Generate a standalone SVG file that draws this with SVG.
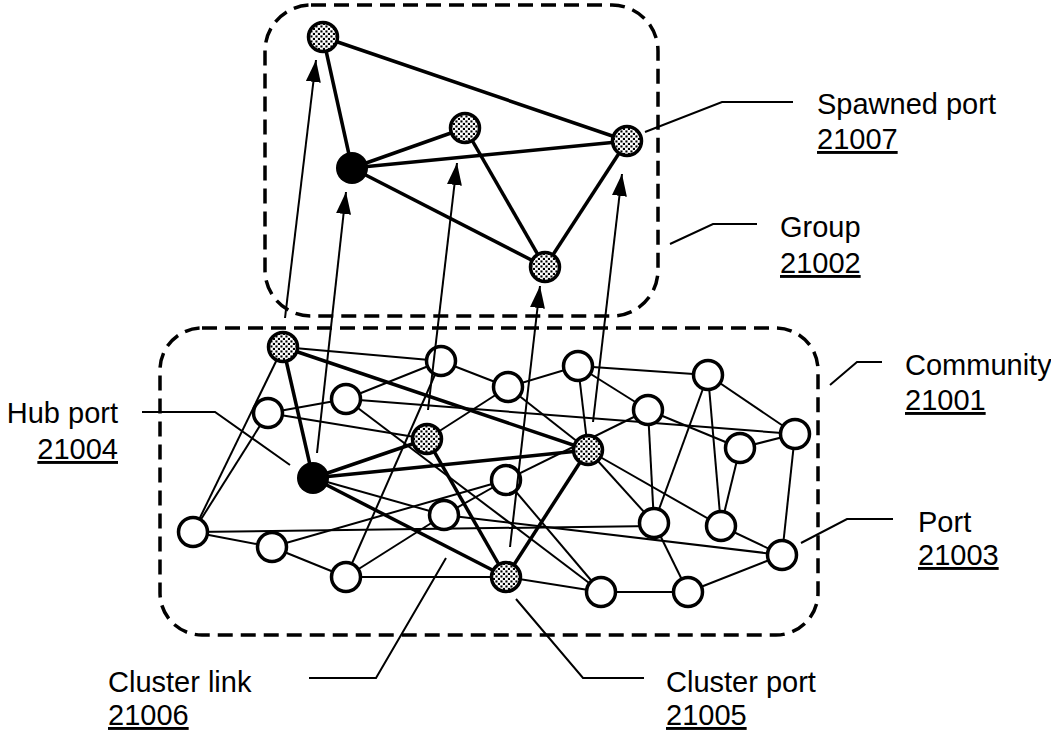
<svg xmlns="http://www.w3.org/2000/svg" width="1051" height="736" viewBox="0 0 1051 736">
  <defs>
    <style>
      .edge{stroke:#000;stroke-width:2;fill:none}
      .thick{stroke-width:3.5}
      .arrow{stroke:#000;stroke-width:2;fill:none;marker-end:url(#ah)}
      .port{fill:#fff;stroke:#000;stroke-width:3.5}
      .spawn{fill:url(#dots);stroke:#000;stroke-width:3.5}
      .hub{fill:#000}
      .frame{fill:none;stroke:#000;stroke-width:3.5;stroke-dasharray:15 8}
      .leader{stroke:#000;stroke-width:2;fill:none}
      .label{font-family:"Liberation Sans",Arial,sans-serif;font-size:29px;fill:#000}
      .num{text-decoration:underline}
    </style>
    <!-- speckled fill for spawned / cluster ports -->
    <pattern id="dots" width="5" height="5" patternUnits="userSpaceOnUse">
      <rect width="5" height="5" fill="#fff"/>
      <rect x="0.4" y="0.4" width="2.1" height="2.1" fill="#000"/>
      <rect x="2.9" y="2.9" width="2.1" height="2.1" fill="#000"/>
    </pattern>
    <marker id="ah" markerUnits="userSpaceOnUse" markerWidth="23" markerHeight="15" refX="22" refY="7.5" orient="auto">
      <path d="M0,0 L22,7.5 L0,15 Z" fill="#000"/>
    </marker>
  </defs>

  <rect width="1051" height="736" fill="#fff"/>

  <!-- dashed boundaries -->
  <g id="frames">
    <rect id="group-21002" class="frame" x="265" y="5" width="393" height="311" rx="46"/>
    <rect id="community-21001" class="frame" x="160" y="328" width="658" height="307" rx="42"/>
  </g>

  <!-- links -->
  <g id="connectors">
    <!-- group links -->
    <g class="edge thick">
      <line x1="323" y1="37" x2="352" y2="168"/>
      <line x1="323" y1="37" x2="627" y2="141"/>
      <line x1="352" y1="168" x2="465" y2="128"/>
      <line x1="352" y1="168" x2="627" y2="141"/>
      <line x1="352" y1="168" x2="545" y2="267"/>
      <line x1="465" y1="128" x2="545" y2="267"/>
      <line x1="627" y1="141" x2="545" y2="267"/>
    </g>
    <!-- community links -->
    <g class="edge">
      <line x1="283" y1="347" x2="441" y2="361"/>
      <line x1="283" y1="347" x2="193" y2="532"/>
      <line x1="268" y1="413" x2="193" y2="532"/>
      <line x1="268" y1="413" x2="346" y2="399"/>
      <line x1="346" y1="399" x2="441" y2="361"/>
      <line x1="268" y1="413" x2="427" y2="439"/>
      <line x1="346" y1="399" x2="795" y2="434"/>
      <line x1="346" y1="399" x2="601" y2="592"/>
      <line x1="441" y1="361" x2="508" y2="387"/>
      <line x1="441" y1="361" x2="346" y2="577"/>
      <line x1="508" y1="387" x2="578" y2="366"/>
      <line x1="508" y1="387" x2="427" y2="439"/>
      <line x1="508" y1="387" x2="588" y2="450"/>
      <line x1="578" y1="366" x2="708" y2="375"/>
      <line x1="578" y1="366" x2="648" y2="410"/>
      <line x1="578" y1="366" x2="588" y2="450"/>
      <line x1="648" y1="410" x2="506" y2="480"/>
      <line x1="648" y1="410" x2="654" y2="523"/>
      <line x1="648" y1="410" x2="740" y2="448"/>
      <line x1="708" y1="375" x2="654" y2="523"/>
      <line x1="708" y1="375" x2="721" y2="526"/>
      <line x1="708" y1="375" x2="795" y2="434"/>
      <line x1="740" y1="448" x2="795" y2="434"/>
      <line x1="740" y1="448" x2="721" y2="526"/>
      <line x1="795" y1="434" x2="782" y2="555"/>
      <line x1="721" y1="526" x2="782" y2="555"/>
      <line x1="588" y1="450" x2="721" y2="526"/>
      <line x1="588" y1="450" x2="654" y2="523"/>
      <line x1="654" y1="523" x2="688" y2="592"/>
      <line x1="688" y1="592" x2="601" y2="592"/>
      <line x1="688" y1="592" x2="782" y2="555"/>
      <line x1="444" y1="515" x2="782" y2="555"/>
      <line x1="193" y1="532" x2="654" y2="526"/>
      <line x1="506" y1="480" x2="601" y2="592"/>
      <line x1="506" y1="480" x2="444" y2="515"/>
      <line x1="272" y1="547" x2="506" y2="480"/>
      <line x1="444" y1="515" x2="346" y2="577"/>
      <line x1="346" y1="577" x2="506" y2="577"/>
      <line x1="346" y1="577" x2="272" y2="547"/>
      <line x1="193" y1="532" x2="272" y2="547"/>
      <line x1="313" y1="478" x2="444" y2="515"/>
      <line x1="506" y1="577" x2="601" y2="592"/>
    </g>
    <!-- cluster links -->
    <g class="edge thick">
      <line x1="313" y1="478" x2="283" y2="347"/>
      <line x1="313" y1="478" x2="427" y2="439"/>
      <line x1="313" y1="478" x2="588" y2="450"/>
      <line x1="313" y1="478" x2="506" y2="577"/>
      <line x1="283" y1="347" x2="588" y2="450"/>
      <line x1="427" y1="439" x2="506" y2="577"/>
      <line x1="588" y1="450" x2="506" y2="577"/>
    </g>
  </g>

  <!-- ports of the community -->
  <g id="port-d1"><circle class="spawn" cx="283" cy="347" r="14.5"/></g>
  <g id="port-a"><circle class="port" cx="441" cy="361" r="14.5"/></g>
  <g id="port-b"><circle class="port" cx="268" cy="413" r="14.5"/></g>
  <g id="port-c"><circle class="port" cx="346" cy="399" r="14.5"/></g>
  <g id="port-d2"><circle class="spawn" cx="427" cy="439" r="14.5"/></g>
  <g id="hub-port-21004"><circle class="hub" cx="313" cy="478" r="16"/></g>
  <g id="port-e"><circle class="port" cx="193" cy="532" r="14.5"/></g>
  <g id="port-f"><circle class="port" cx="272" cy="547" r="14.5"/></g>
  <g id="port-g"><circle class="port" cx="444" cy="515" r="14.5"/></g>
  <g id="port-h"><circle class="port" cx="346" cy="577" r="14.5"/></g>
  <g id="port-i"><circle class="port" cx="508" cy="387" r="14.5"/></g>
  <g id="port-j"><circle class="port" cx="506" cy="480" r="14.5"/></g>
  <g id="port-l"><circle class="port" cx="578" cy="366" r="14.5"/></g>
  <g id="port-m"><circle class="port" cx="708" cy="375" r="14.5"/></g>
  <g id="port-n"><circle class="port" cx="648" cy="410" r="14.5"/></g>
  <g id="port-d3"><circle class="spawn" cx="588" cy="450" r="14.5"/></g>
  <g id="port-o"><circle class="port" cx="795" cy="434" r="14.5"/></g>
  <g id="port-p"><circle class="port" cx="740" cy="448" r="14.5"/></g>
  <g id="port-q"><circle class="port" cx="654" cy="523" r="14.5"/></g>
  <g id="port-r"><circle class="port" cx="721" cy="526" r="14.5"/></g>
  <g id="port-21003"><circle class="port" cx="782" cy="555" r="14.5"/></g>
  <g id="cluster-port-21005"><circle class="spawn" cx="506" cy="577" r="14.5"/></g>
  <g id="port-t"><circle class="port" cx="601" cy="592" r="14.5"/></g>
  <g id="port-u"><circle class="port" cx="688" cy="592" r="14.5"/></g>

  <!-- ports of the group -->
  <g id="spawn-g1"><circle class="spawn" cx="323" cy="37" r="14.5"/></g>
  <g id="spawn-hub"><circle class="hub" cx="352" cy="168" r="16"/></g>
  <g id="spawn-g2"><circle class="spawn" cx="465" cy="128" r="14.5"/></g>
  <g id="spawned-port-21007"><circle class="spawn" cx="627" cy="141" r="14.5"/></g>
  <g id="spawn-g4"><circle class="spawn" cx="545" cy="267" r="14.5"/></g>

  <!-- spawning arrows, community to group -->
  <g id="spawn-arrows">
    <line class="arrow" x1="285" y1="318" x2="316" y2="60"/>
    <line class="arrow" x1="317" y1="453" x2="346" y2="192"/>
    <line class="arrow" x1="428" y1="410" x2="457" y2="163"/>
    <line class="arrow" x1="510" y1="547" x2="540" y2="286"/>
    <line class="arrow" x1="593" y1="422" x2="622" y2="174"/>
  </g>

  <!-- callout leaders -->
  <g id="leaders" class="leader">
    <polyline points="645,132 722,102 793,102"/>
    <polyline points="670,244 713,224 757,224"/>
    <polyline points="830,385 857,362 882,362"/>
    <polyline points="801,543 847,519 893,519"/>
    <polyline points="142,412 215,412 290,465"/>
    <polyline points="446,558 376,678 309,678"/>
    <polyline points="516,599 583,678 644,678"/>
  </g>

  <!-- callout labels -->
  <g id="labels" class="label">
    <text x="817" y="114">Spawned port</text>
    <text class="num" x="817" y="149">21007</text>
    <text x="780" y="237">Group</text>
    <text class="num" x="780" y="273">21002</text>
    <text x="905" y="375">Community</text>
    <text class="num" x="905" y="410">21001</text>
    <text x="918" y="532">Port</text>
    <text class="num" x="918" y="565">21003</text>
    <text x="118" y="423" text-anchor="end">Hub port</text>
    <text class="num" x="118" y="459" text-anchor="end">21004</text>
    <text x="108" y="692">Cluster link</text>
    <text class="num" x="108" y="725">21006</text>
    <text x="666" y="692">Cluster port</text>
    <text class="num" x="666" y="725">21005</text>
  </g>
</svg>
